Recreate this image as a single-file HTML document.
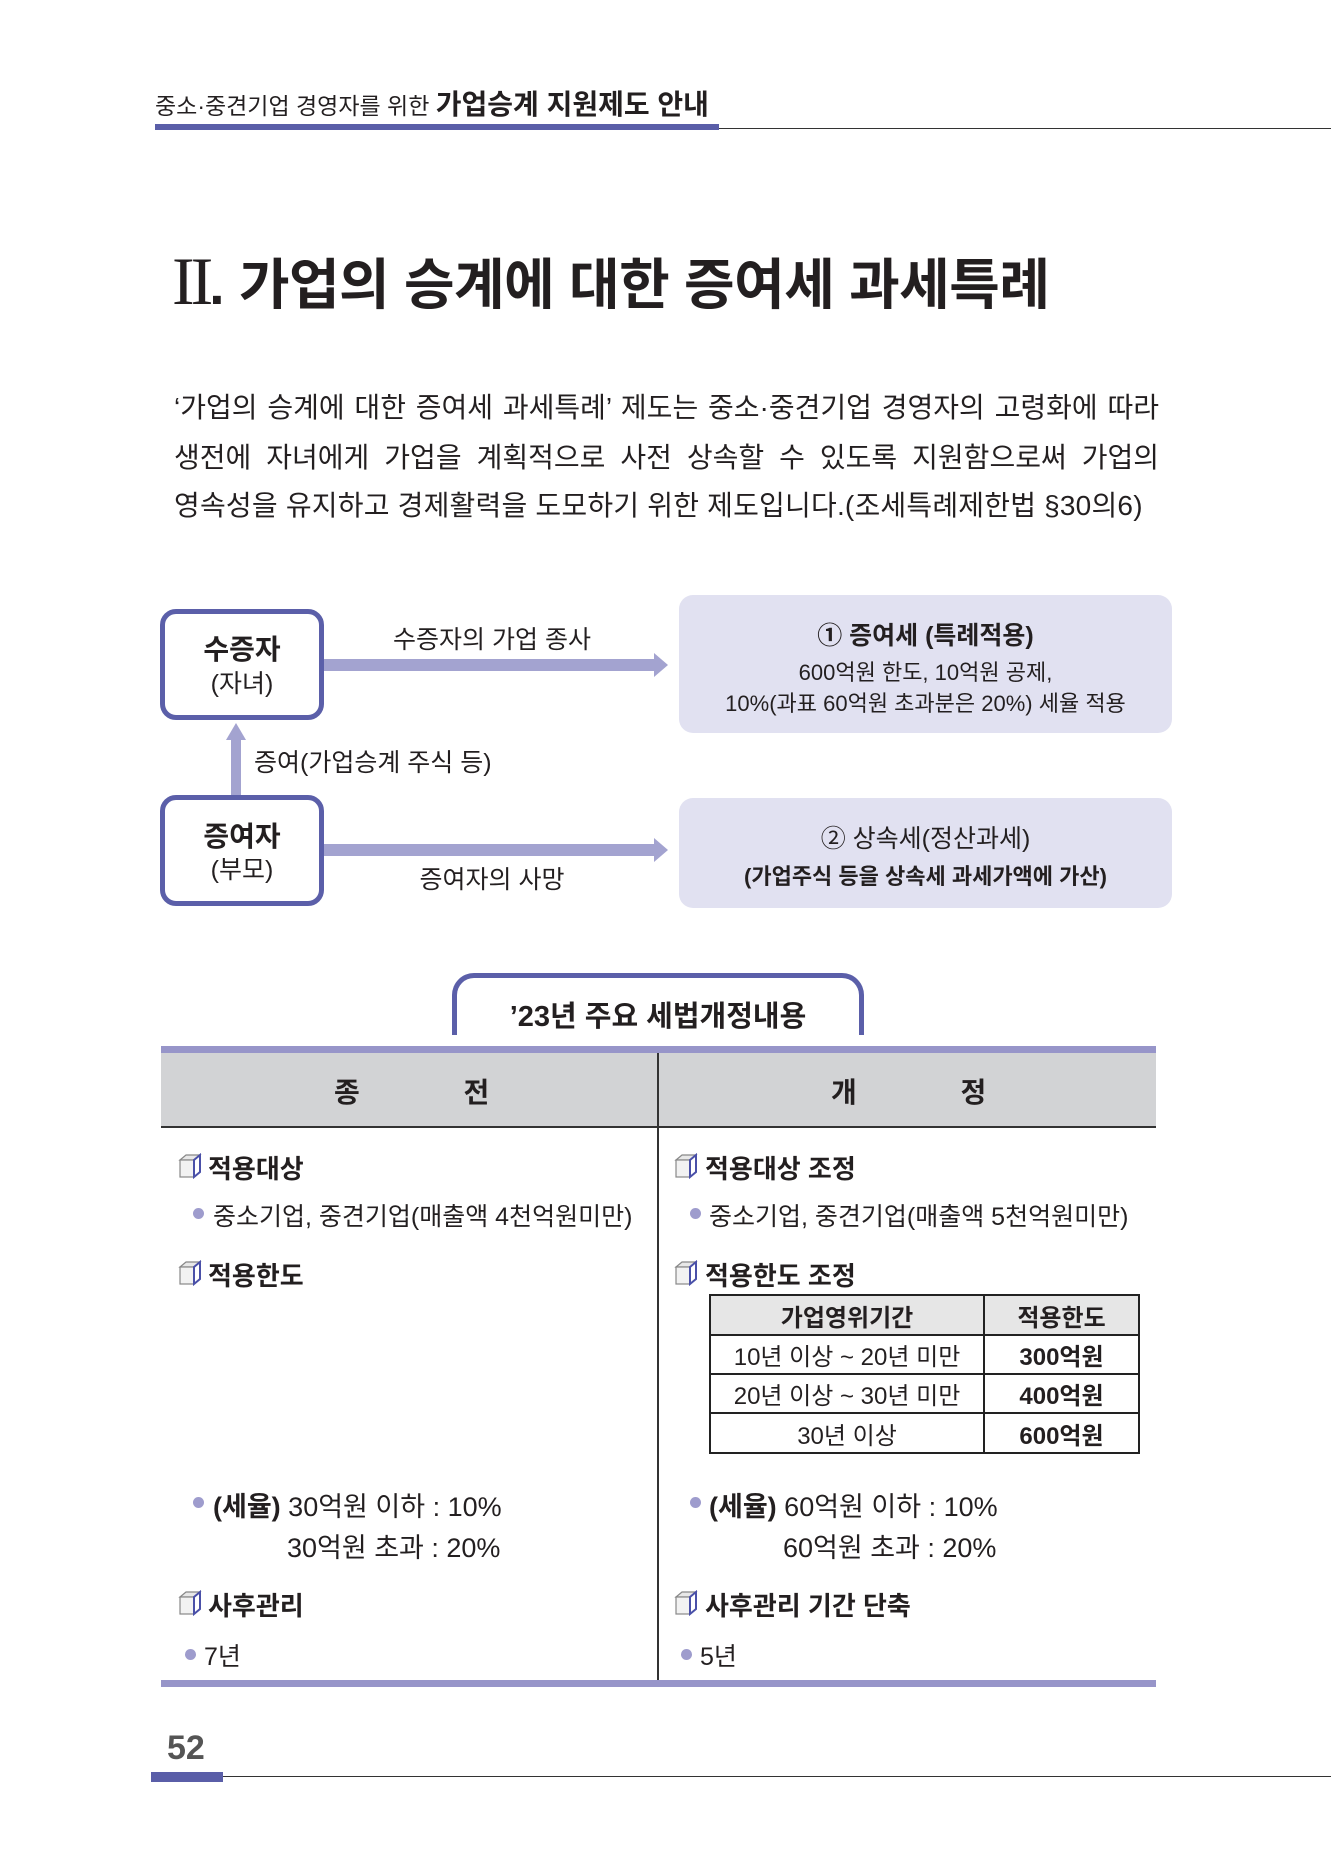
<!DOCTYPE html>
<html><head><meta charset="utf-8">
<style>
*{margin:0;padding:0;box-sizing:border-box}
body{width:1331px;height:1851px;background:#fff;position:relative;overflow:hidden;font-family:"Liberation Sans","Noto Sans CJK KR","NanumGothic",sans-serif;color:#231f20}
.a{position:absolute;white-space:nowrap}
.c{text-align:center}
.b{font-weight:bold}
.p{position:absolute;left:174px;width:985px;font-size:28px;text-align:justify;text-align-last:justify;white-space:nowrap}
.box{position:absolute;border:5px solid #5b5fa9;border-radius:16px;background:#fff}
.pbox{position:absolute;background:#e1e1f1;border-radius:14px}
.ico{position:absolute;width:25px;height:26px}
.bul{position:absolute;width:11px;height:11px;border-radius:50%;background:#9e9ccd}
.t{font-size:25px}
.h{font-size:26px;font-weight:bold}
</style></head><body>
<div class="a" style="left:155px;top:83px;font-size:23px">중소·중견기업 경영자를 위한 <b style="font-size:28px">가업승계 지원제도 안내</b></div>
<div class="a" style="left:155px;top:124px;width:564px;height:6px;background:#5a5ea8"></div>
<div class="a" style="left:719px;top:128px;width:612px;height:1px;background:#333"></div>

<div class="a b" style="left:172px;top:240px;font-size:55px;letter-spacing:-0.5px"><span style="font-family:'Liberation Serif',serif;font-weight:normal;font-size:68px;letter-spacing:-4px">II</span>. 가업의 승계에 대한 증여세 과세특례</div>

<div class="p" style="top:386px">‘가업의 승계에 대한 증여세 과세특례’ 제도는 중소·중견기업 경영자의 고령화에 따라</div>
<div class="p" style="top:436px">생전에 자녀에게 가업을 계획적으로 사전 상속할 수 있도록 지원함으로써 가업의</div>
<div class="a" style="left:174px;top:484px;font-size:28px;letter-spacing:0.2px">영속성을 유지하고 경제활력을 도모하기 위한 제도입니다.(조세특례제한법 §30의6)</div>

<!-- diagram -->
<div class="box" style="left:160px;top:609px;width:164px;height:111px"></div>
<div class="a c b" style="left:160px;top:628px;width:164px;font-size:28px">수증자</div>
<div class="a c" style="left:160px;top:664px;width:164px;font-size:25px">(자녀)</div>
<div class="box" style="left:160px;top:795px;width:164px;height:111px"></div>
<div class="a c b" style="left:160px;top:815px;width:164px;font-size:28px">증여자</div>
<div class="a c" style="left:160px;top:850px;width:164px;font-size:25px">(부모)</div>

<svg class="a" style="left:0;top:0" width="1331" height="1000">
<rect x="324" y="659" width="332" height="12" fill="#a3a3d0"/><polygon points="654,653 668,665 654,677" fill="#a3a3d0"/>
<rect x="324" y="844" width="332" height="12" fill="#a3a3d0"/><polygon points="654,838 668,850 654,862" fill="#a3a3d0"/>
<rect x="231" y="737" width="10" height="58" fill="#a3a3d0"/><polygon points="226,740 236,723 246,740" fill="#a3a3d0"/>
</svg>
<div class="a c" style="left:362px;top:620px;width:260px;font-size:25px">수증자의 가업 종사</div>
<div class="a" style="left:254px;top:743px;font-size:25px">증여(가업승계 주식 등)</div>
<div class="a c" style="left:362px;top:860px;width:260px;font-size:25px">증여자의 사망</div>

<div class="pbox" style="left:679px;top:595px;width:493px;height:138px"></div>
<div class="a c b" style="left:679px;top:616px;width:493px;font-size:25px">① 증여세 (특례적용)</div>
<div class="a c" style="left:679px;top:655px;width:493px;font-size:22px">600억원 한도, 10억원 공제,</div>
<div class="a c" style="left:679px;top:686px;width:493px;font-size:22px">10%(과표 60억원 초과분은 20%) 세율 적용</div>

<div class="pbox" style="left:679px;top:798px;width:493px;height:110px"></div>
<div class="a c" style="left:679px;top:819px;width:493px;font-size:25px">② 상속세(정산과세)</div>
<div class="a c b" style="left:679px;top:859px;width:493px;font-size:22px">(가업주식 등을 상속세 과세가액에 가산)</div>

<!-- tab -->
<div class="a" style="left:452px;top:973px;width:412px;height:62px;border:5px solid #5b5fa9;border-bottom:none;border-radius:22px 22px 0 0;background:#fff"></div>
<div class="a c b" style="left:452px;top:993px;width:412px;font-size:29px">’23년 주요 세법개정내용</div>

<!-- table -->
<div class="a" style="left:161px;top:1046px;width:995px;height:7px;background:#9795c9"></div>
<div class="a" style="left:161px;top:1053px;width:995px;height:75px;background:#d2d3d5;border-bottom:2px solid #333"></div>
<div class="a b" style="left:334px;top:1071px;font-size:28px;word-spacing:96px">종 전</div>
<div class="a b" style="left:831px;top:1071px;font-size:28px;word-spacing:96px">개 정</div>
<div class="a" style="left:657px;top:1053px;width:2px;height:627px;background:#333"></div>
<div class="a" style="left:161px;top:1680px;width:995px;height:7px;background:#9795c9"></div>

<svg width="0" height="0" style="position:absolute"><defs><g id="cube"><polygon points="3,7 9,2 23,2 17,7" fill="#e8e8e8" stroke="#888" stroke-width="1.2"/><rect x="3" y="7" width="14" height="17" fill="#f2f2f2" stroke="#888" stroke-width="1.2"/><polygon points="17,7 23,2 23,19 17,24" fill="#fff" stroke="#4a50a8" stroke-width="2"/></g></defs></svg>

<!-- left column -->
<svg class="ico" style="left:177px;top:1153px"><use href="#cube"/></svg>
<div class="a h" style="left:208px;top:1149px">적용대상</div>
<div class="bul" style="left:193px;top:1208px"></div>
<div class="a t" style="left:213px;top:1197px">중소기업, 중견기업(매출액 4천억원미만)</div>
<svg class="ico" style="left:177px;top:1260px"><use href="#cube"/></svg>
<div class="a h" style="left:208px;top:1256px">적용한도</div>
<div class="bul" style="left:193px;top:1497px"></div>
<div class="a" style="left:213px;top:1485px;font-size:27px"><b>(세율)</b> 30억원 이하 : 10%</div>
<div class="a" style="left:287px;top:1526px;font-size:27px">30억원 초과 : 20%</div>
<svg class="ico" style="left:177px;top:1590px"><use href="#cube"/></svg>
<div class="a h" style="left:208px;top:1586px">사후관리</div>
<div class="bul" style="left:185px;top:1649px"></div>
<div class="a t" style="left:204px;top:1637px">7년</div>

<!-- right column -->
<svg class="ico" style="left:673px;top:1153px"><use href="#cube"/></svg>
<div class="a h" style="left:705px;top:1149px">적용대상 조정</div>
<div class="bul" style="left:690px;top:1208px"></div>
<div class="a t" style="left:709px;top:1197px">중소기업, 중견기업(매출액 5천억원미만)</div>
<svg class="ico" style="left:673px;top:1260px"><use href="#cube"/></svg>
<div class="a h" style="left:705px;top:1256px">적용한도 조정</div>

<table class="a" style="left:709px;top:1294px;width:431px;border-collapse:collapse;font-size:24px">
<tr style="background:#e6e6e6;height:40px"><td class="c b" style="border:2px solid #222;width:274px">가업영위기간</td><td class="c b" style="border:2px solid #222">적용한도</td></tr>
<tr style="height:39px"><td class="c" style="border:2px solid #222">10년 이상 ~ 20년 미만</td><td class="c b" style="border:2px solid #222">300억원</td></tr>
<tr style="height:39px"><td class="c" style="border:2px solid #222">20년 이상 ~ 30년 미만</td><td class="c b" style="border:2px solid #222">400억원</td></tr>
<tr style="height:40px"><td class="c" style="border:2px solid #222">30년 이상</td><td class="c b" style="border:2px solid #222">600억원</td></tr>
</table>

<div class="bul" style="left:690px;top:1497px"></div>
<div class="a" style="left:709px;top:1485px;font-size:27px"><b>(세율)</b> 60억원 이하 : 10%</div>
<div class="a" style="left:783px;top:1526px;font-size:27px">60억원 초과 : 20%</div>
<svg class="ico" style="left:673px;top:1590px"><use href="#cube"/></svg>
<div class="a h" style="left:705px;top:1586px">사후관리 기간 단축</div>
<div class="bul" style="left:681px;top:1649px"></div>
<div class="a t" style="left:700px;top:1637px">5년</div>

<!-- footer -->
<div class="a b" style="left:167px;top:1729px;font-size:34px;color:#555">52</div>
<div class="a" style="left:151px;top:1772px;width:72px;height:10px;background:#5a5ea8"></div>
<div class="a" style="left:223px;top:1776px;width:1108px;height:1px;background:#333"></div>
</body></html>
